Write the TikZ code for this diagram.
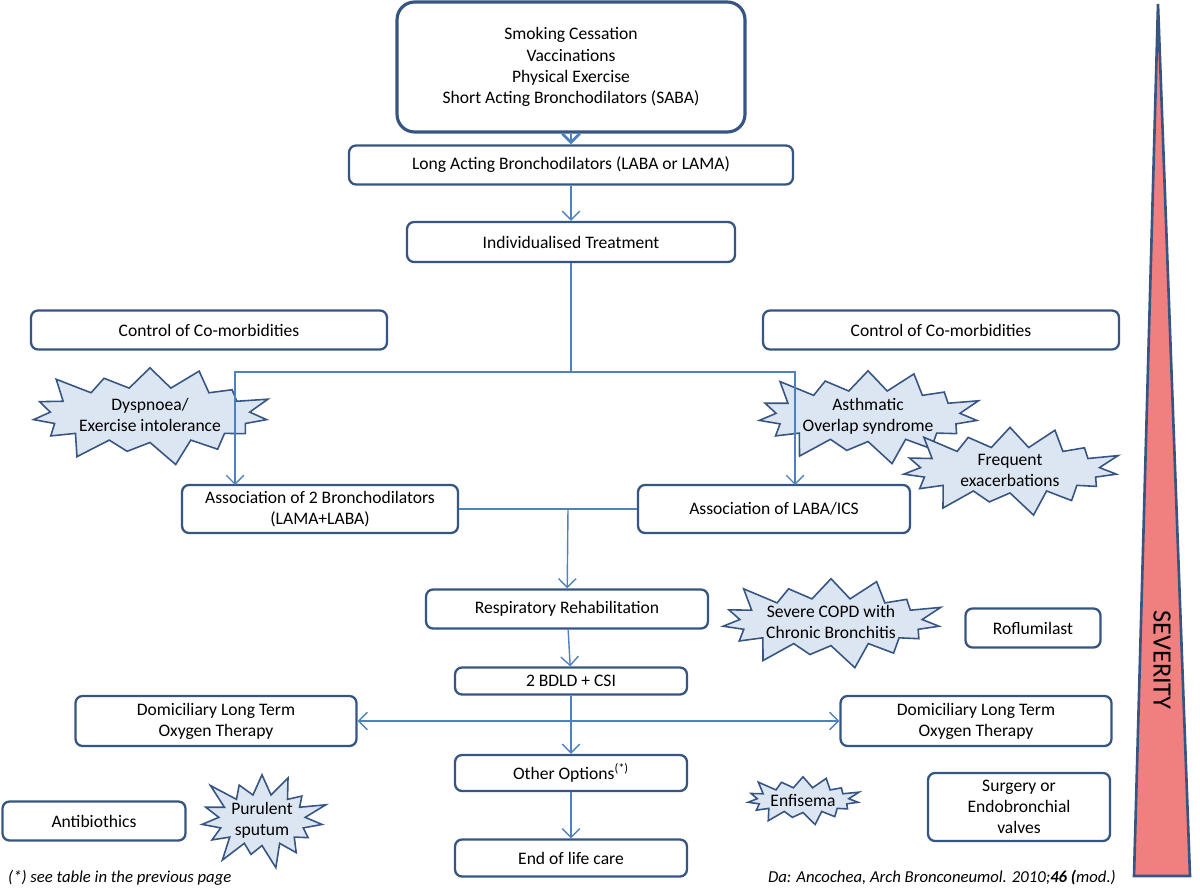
\documentclass[tikz,border=0pt]{standalone}
\usepackage{fontspec}
\setmainfont{Carlito}
\usetikzlibrary{shapes.symbols,arrows.meta}
\definecolor{boxline}{RGB}{55,85,130}
\definecolor{flowline}{RGB}{79,129,189}
\definecolor{burstfill}{RGB}{220,230,242}
\definecolor{severe}{RGB}{240,128,128}
\tikzset{
  box/.style={draw=boxline, line width=1.3pt, rounded corners=4pt, fill=white, align=center, font=\fontsize{10}{12}\selectfont},
  burst/.style={starburst, starburst points=15, starburst point height=0.55cm, draw=boxline, line width=0.9pt, fill=burstfill, align=center, font=\fontsize{10}{12}\selectfont, inner sep=0pt},
  flow/.style={draw=flowline, line width=0.8pt, -{Straight Barb[length=5pt]}}
}
\begin{document}
\begin{tikzpicture}[x=0.02cm, y=-0.02cm]
\useasboundingbox (0,0) rectangle (1200,888);
% boxes
\node [box, line width=1.8pt, minimum width=6.96cm, minimum height=2.6cm, rounded corners=10pt] (start) at (571,67) {Smoking Cessation\\Vaccinations\\Physical Exercise\\Short Acting Bronchodilators (SABA)};
\node [box, minimum width=8.88cm, minimum height=0.78cm] (laba) at (571,165) {Long Acting Bronchodilators (LABA or LAMA)};
\node [box, minimum width=6.56cm, minimum height=0.8cm] (indiv) at (571,242) {Individualised Treatment};
\node [box, minimum width=7.12cm, minimum height=0.78cm] (comL) at (209,330) {Control of Co-morbidities};
\node [box, minimum width=7.12cm, minimum height=0.78cm] (comR) at (941,330) {Control of Co-morbidities};
\node [box, minimum width=5.52cm, minimum height=0.96cm] (assocA) at (320,509) {Association of 2 Bronchodilators\\(LAMA+LABA)};
\node [box, minimum width=5.44cm, minimum height=0.96cm] (assocB) at (774,509) {Association of LABA/ICS};
\node [box, minimum width=5.64cm, minimum height=0.78cm] (rehab) at (567,609) {Respiratory Rehabilitation};
\node [box, minimum width=2.7cm, minimum height=0.78cm] (roflu) at (1033,628) {Roflumilast};
\node [box, minimum width=4.64cm, minimum height=0.54cm] (bdld) at (571,681) {2 BDLD + CSI};
\node [box, minimum width=5.62cm, minimum height=1.0cm] (oxyL) at (216,721) {Domiciliary Long Term\\Oxygen Therapy};
\node [box, minimum width=5.42cm, minimum height=1.0cm] (oxyR) at (976,721) {Domiciliary Long Term\\Oxygen Therapy};
\node [box, minimum width=4.64cm, minimum height=0.72cm] (other) at (571,773) {Other Options\textsuperscript{(*)}};
\node [box, minimum width=3.66cm, minimum height=0.78cm] (antib) at (94,821) {Antibiothics};
\node [box, minimum width=3.64cm, minimum height=1.36cm] (surg) at (1019,807) {Surgery or\\Endobronchial\\valves};
\node [box, minimum width=4.64cm, minimum height=0.74cm] (eol) at (571,858) {End of life care};
% bursts
\node [burst, minimum width=5.0cm, minimum height=2.2cm] (dysp) at (150,415) {Dyspnoea/\\Exercise intolerance};
\node [burst, minimum width=4.2cm, minimum height=2.0cm] (asth) at (868,416) {Asthmatic\\Overlap syndrome};
\node [burst, minimum width=4.7cm, minimum height=1.9cm] (freq) at (1010,470) {Frequent\\exacerbations};
\node [burst, minimum width=4.2cm, minimum height=2.0cm] (copd) at (831,622) {Severe COPD with\\Chronic Bronchitis};
\node [burst, minimum width=2.4cm, minimum height=1.8cm] (pur) at (262,820) {Purulent\\sputum};
\node [burst, minimum width=1.9cm, minimum height=1.1cm, starburst point height=0.3cm] (enf) at (803,800) {Enfisema};
% severity wedge
\draw [boxline, line width=1.5pt, fill=severe] (1158,4) -- (1190,876) -- (1134,876) -- cycle;
\node [rotate=-90, font=\fontsize{15}{18}\selectfont] (sev) at (1162,660) {SEVERITY};
% connectors
\draw [flow, line width=1.6pt] (start) -- (laba);
\draw [flow] (laba) -- (indiv);
\coordinate (split) at (571,372);
\draw [flowline, line width=0.8pt] (indiv) -- (split);
\draw [flow] (split) -| (235,485);
\draw [flow] (split) -| (795,485);
\coordinate (join) at (568,509);
\draw [flowline, line width=0.8pt] (assocA) -- (assocB);
\draw [flow] (join) -- (rehab);
\draw [flow] (rehab) -- (bdld);
\draw [flow] (bdld) -- (other);
\coordinate (mid) at (571,721);
\draw [flow] (mid) -- (oxyL);
\draw [flow] (mid) -- (oxyR);
\draw [flow] (other) -- (eol);
% footnotes
\node [anchor=west, font=\fontsize{9.5}{11}\selectfont\itshape] (note) at (2,878) {(*) see table in the previous page};
\node [anchor=east, font=\fontsize{9.5}{11}\selectfont\itshape] (src) at (1122,878) {Da: Ancochea, Arch Bronconeumol. 2010;\textbf{46 (}mod.)};
\end{tikzpicture}
\end{document}
